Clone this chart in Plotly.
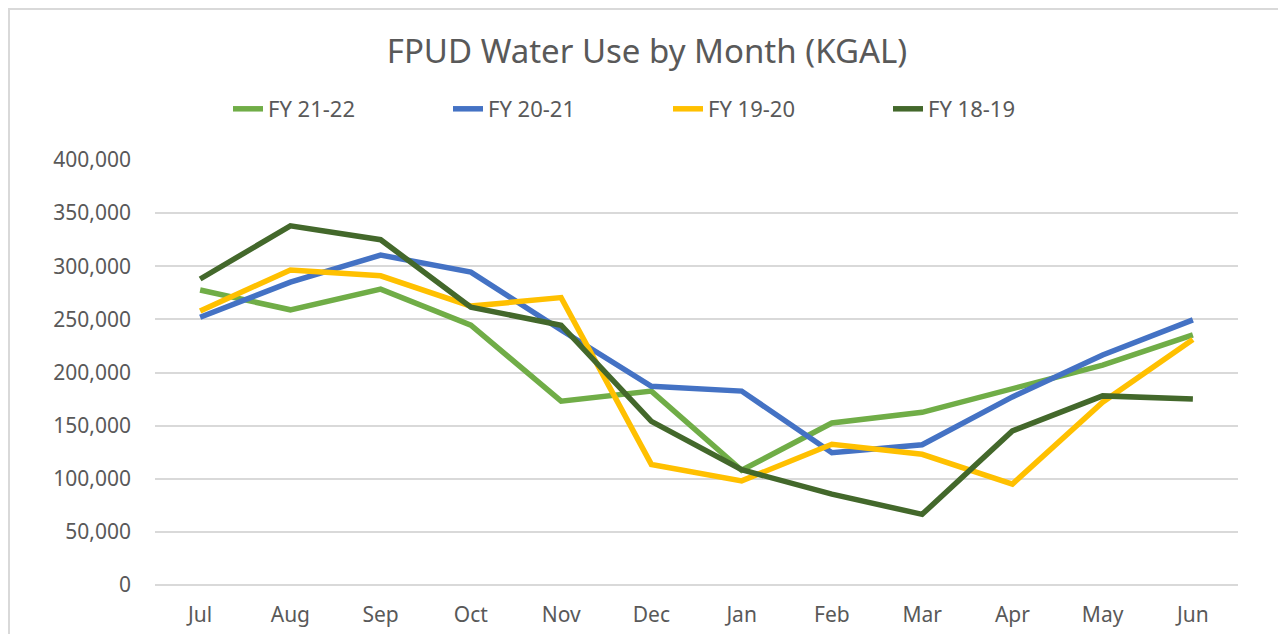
import plotly.graph_objects as go

# -----------------------------------
# Data (KGAL by month)
# -----------------------------------
months = ["Jul", "Aug", "Sep", "Oct", "Nov", "Dec",
          "Jan", "Feb", "Mar", "Apr", "May", "Jun"]

fy_21_22 = [277600, 259000, 278500, 244500, 173000, 182500,
            108000, 152500, 162500, 185000, 207000, 235500]
fy_20_21 = [252000, 285000, 310500, 294500, 240000, 187000,
            182500, 124500, 132000, 177000, 216500, 249500]
fy_19_20 = [258000, 296500, 291000, 262500, 270500, 113500,
            98000, 132500, 123000, 95000, 172000, 231000]
fy_18_19 = [288000, 338000, 325000, 261500, 244500, 154000,
            108500, 85500, 66500, 145000, 178000, 175000]

series = [
    ("FY 21-22", fy_21_22, "#70AD47"),
    ("FY 20-21", fy_20_21, "#4472C4"),
    ("FY 19-20", fy_19_20, "#FFC000"),
    ("FY 18-19", fy_18_19, "#43682B"),
]

font_name = "Noto Sans"
grey = "#595959"

# plot area in pixels (page has an 8px body offset)
m_l, m_r, m_t, m_b = 147, 48, 152, 49
fig_w, fig_h = 1278, 626
plot_w = fig_w - m_l - m_r
plot_h = fig_h - m_t - m_b

fig = go.Figure()

for name, values, color in series:
    fig.add_trace(
        go.Scatter(
            x=months,
            y=values,
            mode="lines",
            name=name,
            line=dict(color=color, width=5.5)
        )
    )

fig.update_layout(
    width=fig_w,
    height=fig_h,
    template="plotly_white",
    plot_bgcolor="white",
    paper_bgcolor="white",
    margin=dict(l=m_l, r=m_r, t=m_t, b=m_b),
    font=dict(family=font_name, color=grey, size=21),
    title=dict(
        text="FPUD Water Use by Month (KGAL)",
        x=0.5,
        xanchor="center",
        y=1 - 43 / fig_h,
        yanchor="middle",
        font=dict(family=font_name, size=33, color=grey)
    ),
    legend=dict(
        orientation="h",
        x=(233 - 155 - 5) / plot_w,
        xanchor="left",
        y=1 + (m_t + 8 - 109) / plot_h,
        yanchor="middle",
        entrywidth=175,
        entrywidthmode="pixels",
        font=dict(family=font_name, size=22, color=grey)
    ),
    xaxis=dict(
        range=[-0.5, 11.5],
        showgrid=False,
        showline=False,
        ticks="",
        automargin=False,
        ticklabelstandoff=15,
        tickfont=dict(size=21, color=grey)
    ),
    yaxis=dict(
        range=[0, 400000],
        dtick=50000,
        tickformat=",",
        gridcolor="#D9D9D9",
        gridwidth=1.5,
        zeroline=True,
        zerolinecolor="#D9D9D9",
        zerolinewidth=1.5,
        ticks="",
        automargin=False,
        ticklabelstandoff=23,
        tickfont=dict(size=21, color=grey)
    ),
    shapes=[
        dict(
            type="rect",
            xref="paper",
            yref="paper",
            x0=(1 - m_l) / plot_w,
            x1=1 + (m_r + 5) / plot_w,
            y0=-(m_b + 5) / plot_h,
            y1=1 + (m_t - 1) / plot_h,
            line=dict(color="#D9D9D9", width=2)
        )
    ]
)

fig.write_html("out.html")
